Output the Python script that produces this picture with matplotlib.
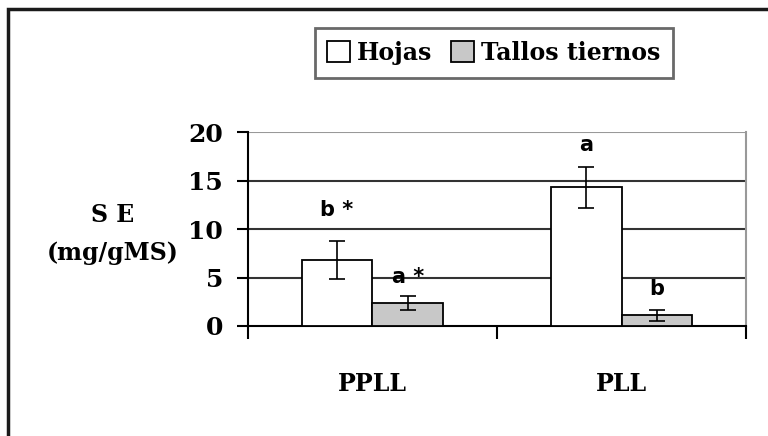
import matplotlib.pyplot as plt
import numpy as np
from matplotlib.patches import Rectangle

# data
groups = ["PPLL", "PLL"]
hojas = [6.8, 14.3]
hojas_err = [2.0, 2.1]
tallos = [2.4, 1.1]
tallos_err = [0.7, 0.6]
hojas_lbl = ["b *", "a"]
tallos_lbl = ["a *", "b"]
hojas_lbl_y = [12.0, 18.7]
tallos_lbl_y = [5.1, 3.8]

serif = "DejaVu Serif"
sans = "DejaVu Sans"

fig = plt.figure(figsize=(7.68, 4.36), dpi=100)
ax = fig.add_axes([0.3229, 0.2523, 0.6485, 0.4449])

x = np.arange(len(groups))
w = 0.285
ax.set_axisbelow(True)
ax.bar(x - w / 2, hojas, w, color="white", edgecolor="black", linewidth=1.3,
       label="Hojas", zorder=3)
ax.bar(x + w / 2, tallos, w, color="#c8c8c8", edgecolor="black", linewidth=1.3,
       label="Tallos tiernos", zorder=3)
ax.errorbar(x - w / 2, hojas, yerr=hojas_err, fmt="none", ecolor="black",
            elinewidth=1.2, capsize=5.5, capthick=1.2, zorder=4)
ax.errorbar(x + w / 2, tallos, yerr=tallos_err, fmt="none", ecolor="black",
            elinewidth=1.2, capsize=5.5, capthick=1.2, zorder=4)

for i in range(len(groups)):
    ax.text(x[i] - w / 2, hojas_lbl_y[i], hojas_lbl[i], ha="center", va="center",
            fontsize=15, fontweight="bold", family=sans)
    ax.text(x[i] + w / 2, tallos_lbl_y[i], tallos_lbl[i], ha="center", va="center",
            fontsize=15, fontweight="bold", family=sans)

ax.set_xlim(-0.5, 1.5)
ax.set_ylim(0, 20)
ax.set_yticks([0, 5, 10, 15, 20])
ax.set_yticklabels(["0", "5", "10", "15", "20"], fontsize=18, fontweight="bold",
                   family=serif)
for v in [5, 10, 15]:
    ax.axhline(v, color="#333333", lw=1.5, zorder=1)
ax.axhline(20, color="#999999", lw=1.5, zorder=1)

ax.set_xticks([-0.5, 0.5, 1.5])
ax.set_xticklabels([])
ax.set_xticks(x, minor=True)
ax.set_xticklabels(groups, minor=True, fontsize=17, fontweight="bold", family=serif)
ax.tick_params(axis="x", which="minor", length=0, pad=33)
ax.tick_params(axis="x", which="major", length=9, width=1.5, direction="out")
ax.tick_params(axis="y", length=8, width=1.5, direction="out", pad=10)

ax.spines["top"].set_visible(False)
ax.spines["right"].set_color("#999999")
ax.spines["right"].set_linewidth(1.5)
ax.spines["left"].set_linewidth(1.5)
ax.spines["bottom"].set_linewidth(1.5)

fig.text(0.147, 0.507, "S E", ha="center", va="center", fontsize=17,
         fontweight="bold", family=serif)
fig.text(0.147, 0.42, "(mg/gMS)", ha="center", va="center", fontsize=17,
         fontweight="bold", family=serif)

leg = fig.legend(loc="center", bbox_to_anchor=(0.643, 0.879), ncol=2,
                 frameon=True, fancybox=False, handlelength=0.95,
                 handleheight=0.95, handletextpad=0.3, columnspacing=0.8,
                 borderpad=0.55, prop={"family": serif, "weight": "bold", "size": 17})
leg.get_frame().set_edgecolor("#444444")
leg.get_frame().set_linewidth(2)

fig.patches.append(Rectangle((8 / 768, -0.1), 1.2, 0.1 + 1 - 9 / 436,
                             transform=fig.transFigure, fill=False,
                             edgecolor="#1a1a1a", lw=2.5, clip_on=False))

fig.savefig("out.png", dpi=100)
